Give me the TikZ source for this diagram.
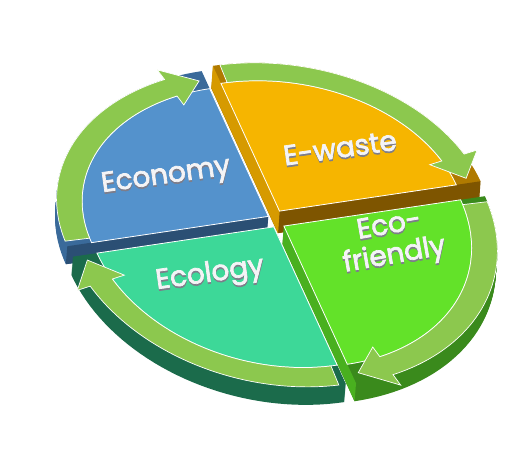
\documentclass[tikz,border=0pt]{standalone}
\usepackage{fontspec}
\setmainfont{Poppins}
\newfontfamily\labelfont[FakeBold=2.5]{Poppins}
\usepackage{xcolor}
\definecolor{EconomyTop}{HTML}{5492CC}
\definecolor{EconomySide}{HTML}{3A6A9A}
\definecolor{EconomyFront}{HTML}{2B4F74}
\definecolor{EwasteTop}{HTML}{F6B500}
\definecolor{EwasteSide}{HTML}{B07A00}
\definecolor{EwasteLeft}{HTML}{D69A00}
\definecolor{EwasteFront}{HTML}{7E5500}
\definecolor{EcologyTop}{HTML}{3DD898}
\definecolor{EcologySide}{HTML}{1B6B4B}
\definecolor{EcoFriendlyTop}{HTML}{63E229}
\definecolor{EcoFriendlySide}{HTML}{3A8A1C}
\definecolor{EcoFriendlyLeft}{HTML}{49B01F}
\definecolor{RingArrow}{HTML}{8CC84E}
\definecolor{LabelText}{HTML}{F4F4F6}
\definecolor{LabelShadow}{HTML}{7D7D8A}
\tikzset{
  slicetop/.style={fill=#1, draw=white, line width=0.8pt},
  ringarrowstyle/.style={fill=RingArrow, draw=white, line width=0.7pt},
  labeltext/.style={text=LabelText, font=\labelfont\fontsize{28}{30}\selectfont, align=center, inner sep=0pt},
  extrude/.style={shift={(-1.5pt,-#1pt)}},
  nearhalf/.style={y={(-72.5pt,158pt)}}
}
% cuerpo de la porcion: copias desplazadas hacia abajo
\newcommand{\slicebody}[4]{%
  \foreach \k in {0,...,#4}{
    \begin{scope}[shift={({-0.083pt*\k},{-1pt*\k})}]
      \fill[#3] (0,0) -- plot[domain=#1:#2, samples=40] (\x:0.995) -- cycle;
    \end{scope}
  }}
\newcommand{\ringarrow}[2]{%
  \pgfmathsetmacro{\headbase}{#2+9}
  \filldraw[ringarrowstyle] plot[domain=#1:\headbase, samples=40] (\x:0.995)
    -- (\headbase:1.065) -- (#2:0.935) -- (\headbase:0.81)
    -- plot[domain=\headbase:#1, samples=40] (\x:0.875) -- cycle;}
\newcommand{\slicelabel}[4]{%
  \node[labeltext, text=LabelShadow, rotate=#3] at ([xshift=0.3pt, yshift=-1.8pt]#2) {#4};
  \node[labeltext, rotate=#3] (#1) at (#2) {#4};}

\begin{document}
\begin{tikzpicture}[x=1pt, y=1pt]
\useasboundingbox (0,0) rectangle (524,453);

\begin{scope}[shift={(276pt,232pt)}, x={(202pt,30pt)}, y={(-67pt,146pt)}]

  % E-waste
  \begin{scope}[shift={(50:0.045)}, yshift=4pt]
    \slicebody{0}{90}{EwasteSide}{22}
    \fill[EwasteFront] (0,0) -- (0:0.995) -- ([extrude=22]0:0.995) -- ([extrude=22]0,0) -- cycle;
    \fill[EwasteLeft] (0,0) -- (90:0.995) -- ([extrude=22]90:0.995) -- ([extrude=22]0,0) -- cycle;
    \fill[slicetop=EwasteTop] (0,0) -- plot[domain=0:90, samples=40] (\x:0.875) -- cycle;
    \ringarrow{88}{2}
  \end{scope}

  % Economy
  \begin{scope}[shift={(125:0.045)}]
    \slicebody{90}{180}{EconomySide}{18}
    \fill[EconomyFront] (0,0) -- (180:0.995) -- ([extrude=18]180:0.995) -- ([extrude=18]0,0) -- cycle;
    \fill[slicetop=EconomyTop] (0,0) -- plot[domain=90:180, samples=40] (\x:0.875) -- cycle;
    \ringarrow{178}{92}
  \end{scope}

  % Eco-friendly
  \begin{scope}[nearhalf, shift={(305:0.045)}]
    \slicebody{270}{360}{EcoFriendlySide}{18}
    \fill[EcoFriendlyLeft] (0,0) -- (270:0.995) -- ([extrude=18]270:0.995) -- ([extrude=18]0,0) -- cycle;
    \fill[slicetop=EcoFriendlyTop] (0,0) -- plot[domain=270:360, samples=40] (\x:0.875) -- cycle;
  \end{scope}

  % Ecology
  \begin{scope}[nearhalf, shift={(235:0.04)}]
    \slicebody{180}{270}{EcologySide}{18}
    \fill[slicetop=EcologyTop] (0,0) -- plot[domain=180:270, samples=40] (\x:0.875) -- cycle;
  \end{scope}

  % flechas delanteras, encima de las porciones
  \begin{scope}[nearhalf, shift={(305:0.045)}]
    \ringarrow{-2}{-88}
  \end{scope}
  \begin{scope}[nearhalf, shift={(235:0.04)}]
    \ringarrow{-92}{-178}
  \end{scope}
\end{scope}

\slicelabel{economy}{166,276}{8}{Economy}
\slicelabel{ewaste}{340,305}{8}{E-waste}
\slicelabel{ecology}{210,178}{8}{Ecology}
\slicelabel{ecofriendly}{392,211}{10}{Eco-\\friendly}

\end{tikzpicture}
\end{document}
